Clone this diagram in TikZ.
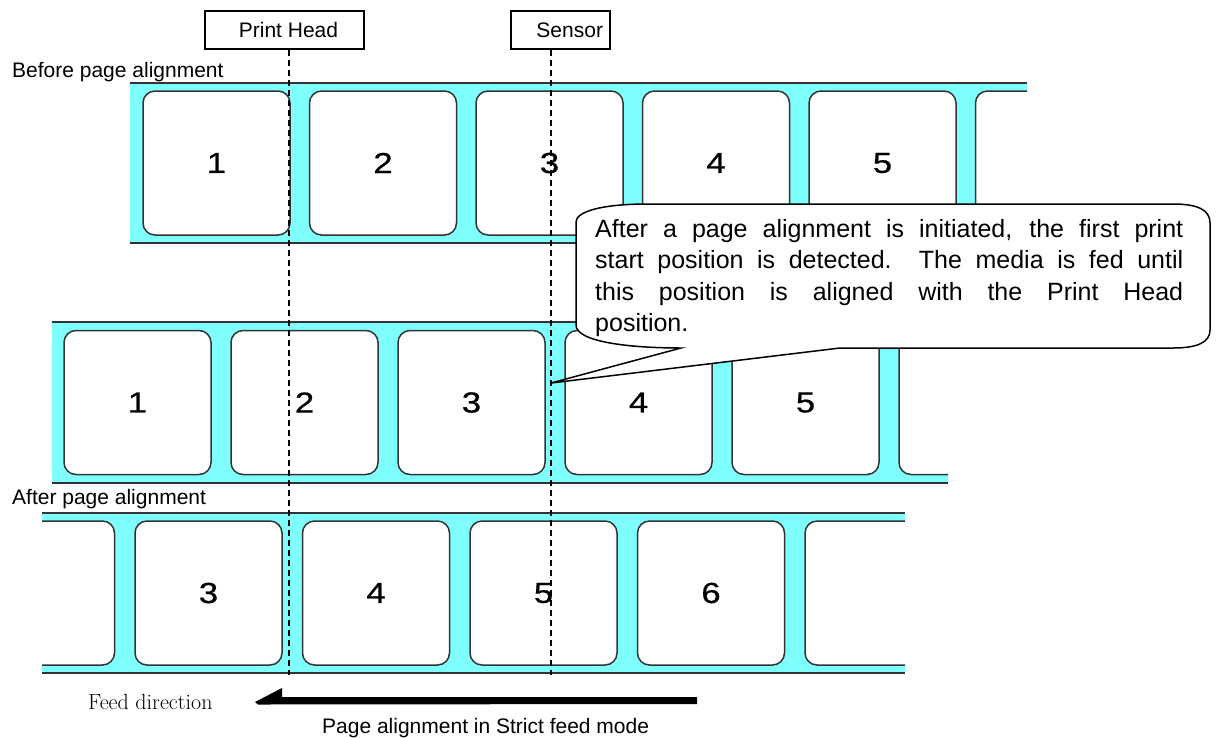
\documentclass[tikz,border=0pt]{standalone}
\usepackage{fontspec}
\newfontfamily\arial{Liberation Sans}
\newfontfamily\digitfont[FakeStretch=1.2,FakeBold=0.6]{Liberation Sans}
\definecolor{tape}{HTML}{80FFFF}
\definecolor{edge}{HTML}{333333}
\tikzset{
  rail/.style={draw=edge, line width=2pt},
  labelbox/.style={draw=edge, line width=1.5pt, fill=white, rounded corners=12pt,
    minimum width=147pt, minimum height=144pt, inner sep=0pt,
    font={\digitfont\fontsize{29}{34}\selectfont}},
  tagbox/.style={draw=black, line width=1.2pt, fill=white, minimum height=38pt,
    inner sep=0pt, font={\arial\fontsize{21}{25}\selectfont}},
  guide/.style={draw=black, line width=1.5pt, dash pattern=on 6pt off 4pt},
  caption/.style={inner sep=0pt, anchor=base west, font={\arial\fontsize{21}{25}\selectfont}},
  bubble/.style={draw=black, line width=1.5pt, fill=white},
}
\begin{document}
\begin{tikzpicture}[x=1pt,y=-1pt]
\useasboundingbox (0,0) rectangle (1217,737);

% ---------- strip 1 : before page alignment ----------
\begin{scope}
  \clip (130,80) rectangle (1027,246);
  \fill[tape] (130,83) rectangle (1027,243);
  \foreach \n [count=\i from 0] in {1,2,3,4,5} {
    \node[labelbox] (a\n) at ({216.5+166.5*\i},163) {\n};
  }
  \node[labelbox] (a6) at (1049,163) {};
\end{scope}
\draw[rail] (130,83) -- (1027,83);
\draw[rail] (130,243) -- (1027,243);

% ---------- strip 2 ----------
\begin{scope}
  \clip (52,319) rectangle (948,486);
  \fill[tape] (52,322) rectangle (948,483);
  \foreach \n [count=\i from 0] in {1,2,3,4,5} {
    \node[labelbox] (b\n) at ({137.5+167*\i},402.5) {\n};
  }
  \node[labelbox] (b6) at (972.5,402.5) {};
\end{scope}
\draw[rail] (52,322) -- (948,322);
\draw[rail] (52,483) -- (948,483);

% ---------- strip 3 : after page alignment ----------
\begin{scope}
  \clip (42,510) rectangle (905,676);
  \fill[tape] (42,513) rectangle (905,673);
  \node[labelbox] (c2) at (41,593) {};
  \foreach \n [count=\i from 0] in {3,4,5,6} {
    \node[labelbox] (c\n) at ({208.5+167.5*\i},593) {\n};
  }
  \node[labelbox] (c7) at (878.5,593) {};
\end{scope}
\draw[rail] (42,513) -- (905,513);
\draw[rail] (42,673) -- (905,673);

% ---------- captions ----------
\node[caption] (before) at (12,77) {Before page alignment};
\node[caption] (after) at (12,504) {After page alignment};

% ---------- print head and sensor ----------
\node[tagbox, minimum width=159pt] (ph) at (284.5,30) {\hspace*{8pt}Print Head};
\node[tagbox, minimum width=99pt] (sn) at (560.5,30) {\makebox[85pt][r]{Sensor}};
\coordinate (phEnd) at (289,675);
\coordinate (snEnd) at (551,675);
\draw[guide] (phEnd |- ph.south) -- (phEnd);
\draw[guide] (snEnd |- sn.south) -- (snEnd);

% ---------- callout ----------
\coordinate (tip) at (551,383);
\draw[bubble] (648,204) -- (1173,204)
  .. controls (1198,204) and (1210,210) .. (1210,223)
  -- (1210,330)
  .. controls (1210,342) and (1198,348) .. (1173,348)
  -- (840,348) -- (tip) -- (681,348)
  .. controls (630,348) and (576,342) .. (576,325)
  -- (576,222)
  .. controls (576,212) and (600,204) .. (648,204) -- cycle;
\node[inner sep=0pt, anchor=base west, font={\arial\fontsize{25}{31.5}\selectfont}] (note) at (595,237)
  {\parbox[t]{588pt}{After a page alignment is initiated, the first print\linebreak
   start position is detected.\ \ The media is fed until\linebreak
   this position is aligned with the Print Head\linebreak
   position.}};

% ---------- feed direction arrow ----------
\coordinate (arrTip) at (255,702);
\coordinate (arrEnd) at (697,700.5);
\fill[black] (arrTip) -- (282,688) -- (282,697) -- (arrEnd |- 0,697) -- (arrEnd |- 0,704)
  -- (258,704.5) -- cycle;
\node[inner sep=0pt, anchor=base west, font={\fontsize{22}{26}\selectfont}] (feed) at (88,709) {Feed direction};
\node[caption] (mode) at (322,733) {Page alignment in Strict feed mode};
\end{tikzpicture}
\end{document}
